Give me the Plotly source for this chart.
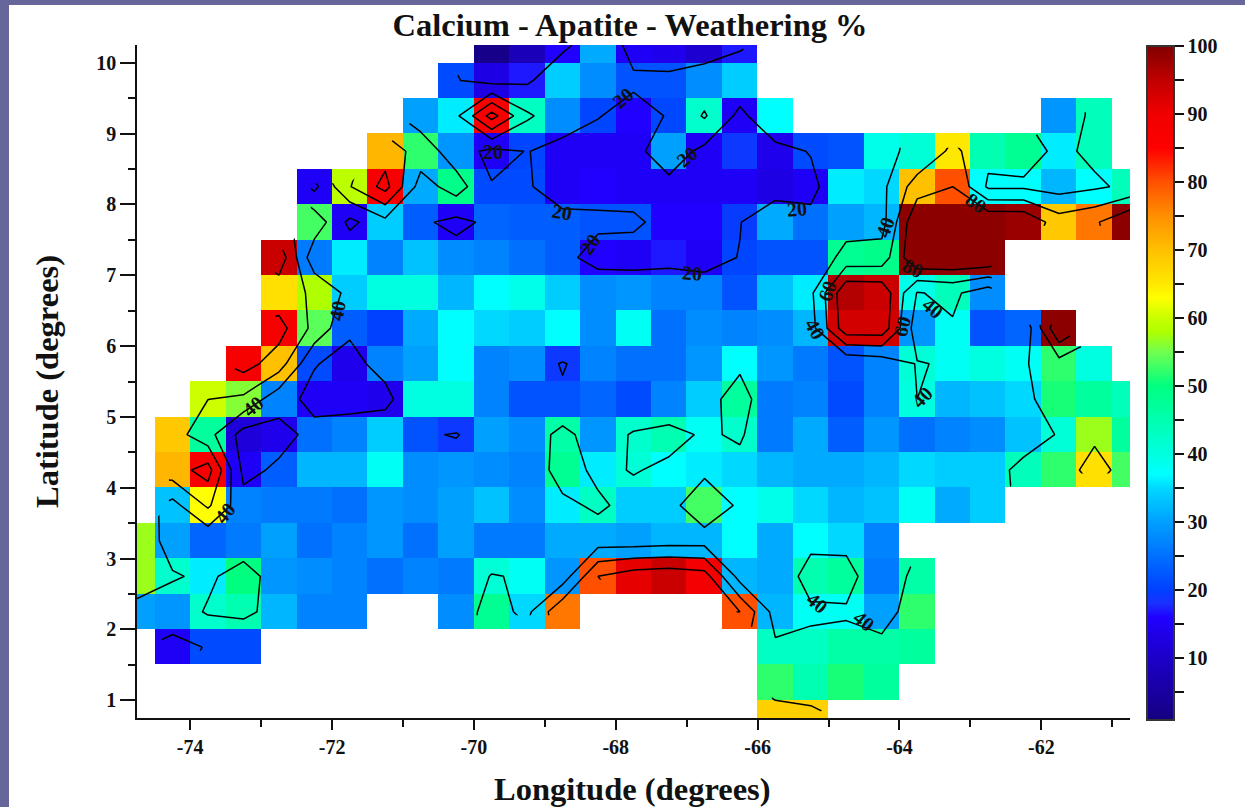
import plotly.graph_objects as go

N = None
longitudes = [-74.75 + 0.5 * i for i in range(29)]
latitudes = [0.75 + 0.5 * i for i in range(20)]

lat_0075 = [N]*18 + [68, 68] + [N]*9
lat_0125 = [N]*18 + [52, 45, 51, 47] + [N]*7
lat_0175 = [N] + [15, 21, 21] + [N]*14 + [43, 43, 46, 46, 47] + [N]*6
lat_0225 = [30, 29, 42, 45, 32, 27, 27, N, N, 28, 48, 35, 77, N, N, N, N, 80, 32, 38, 38, 30, 52] + [N]*6
lat_0275 = [57, 42, 36, 50, 29, 28, 27, 25, 27, 26, 41, 38, 29, 80, 91, 94, 89, 32, 31, 45, 47, 26, 46] + [N]*6
lat_0325 = [57, 30, 24, 26, 30, 25, 27, 29, 25, 30, 26, 26, 31, 31, 30, 32, 32, 37, 31, 37, 35, 27] + [N]*7
lat_0375 = [N] + [33, 63, 27, 26, 26, 25, 29, 28, 30, 33, 28, 36, 43, 34, 34, 53, 37, 39, 35, 32, 33, 38, 31, 34] + [N]*4
lat_0425 = [N] + [71, 88, 15, 23, 32, 32, 38, 28, 29, 28, 27, 48, 36, 41, 37, 36, 35, 32, 31, 31, 32, 35, 34, 34, 44, 52, 66, 53]
lat_0475 = [N] + [69, 47, 12, 14, 25, 27, 34, 22, 19, 30, 28, 46, 29, 42, 45, 38, 42, 26, 31, 23, 29, 25, 27, 28, 33, 41, 57, 47]
lat_0525 = [N]*2 + [60.2, 56, 27, 15, 15, 14, 40, 40, 27, 22, 22, 24, 21, 27, 34, 47, 26, 27, 21, 27, 40, 32, 33, 35, 51, 47, 44]
lat_0575 = [N]*3 + [88, 70, 21, 14, 27, 30, 37, 27, 28, 19, 27, 25, 25, 29, 37, 29, 26, 22, 27, 41, 38, 40, 38, 52, 40, N]
lat_0625 = [N]*4 + [88, 54, 23, 20, 31, 37, 35, 34, 37, 28, 38, 25, 28, 27, 28, 32, 93, 93, 29, 38, 22, 24, 99, N, N]
lat_0675 = [N]*4 + [66, 58, 34, 40, 40, 32, 37, 39, 34, 28, 29, 27, 27, 22, 33, 36, 96, 94, 39, 44, 28] + [N]*4
lat_0725 = [N]*4 + [94, 26, 36, 27, 33, 28, 27, 25, 23, 16, 15, 17, 15, 20.5, 22, 22, 48, 49, 99, 99, 99] + [N]*4
lat_0775 = [N]*5 + [53, 15, 34, 23, 15, 24, 23, 23, 22, 22, 16, 16, 19.5, 31, 25, 30, 32, 99, 99, 99, 98, 69, 77, 99]
lat_0825 = [N]*5 + [15, 59, 87, 31, 49, 21, 21, 15, 16, 15, 15, 15, 15, 13, 15, 36, 35, 70, 80, 37, 37, 32, 37, 44]
lat_0875 = [N]*7 + [71, 52, 29, 15, 20.5, 15, 15, 15, 30, 15, 19, 14, 21, 22, 39, 41, 65, 45, 48, 36, 44, N]
lat_0925 = [N]*8 + [30, 36, 88, 43, 28, 20.5, 16, 20.7, 42, 15, 37] + [N]*7 + [29, 44, N]
lat_0975 = [N]*9 + [21, 13, 17, 34, 28, 22, 22, 28, 34] + [N]*11
lat_1025 = [N]*10 + [2, 8, 16, 31, 15, 14, 11, 17] + [N]*11

weathering = [lat_0075, lat_0125, lat_0175, lat_0225, lat_0275, lat_0325, lat_0375, lat_0425, lat_0475, lat_0525,
              lat_0575, lat_0625, lat_0675, lat_0725, lat_0775, lat_0825, lat_0875, lat_0925, lat_0975, lat_1025]

# contour labels
label_text = ["20", "20", "20", "20", "20", "20", "20", "40", "80", "60", "40", "60", "40", "80", "40", "40", "40", "40", "40", "40"]
label_lon = [-69.73, -67.90, -67.00, -68.76, -68.36, -66.93, -65.45, -64.20, -63.81, -65.02, -65.19, -63.96, -63.53, -62.92, -71.93, -73.11, -73.51, -65.16, -64.50, -63.68]
label_lat = [8.74, 9.50, 8.67, 7.89, 7.44, 7.03, 7.93, 7.68, 7.10, 6.78, 6.24, 6.28, 6.54, 8.02, 6.50, 5.15, 3.64, 2.37, 2.12, 5.28]
label_angle = [0, -40, -40, 10, -55, 5, -5, -70, 25, -70, 60, -75, 40, 35, -80, -40, -50, 40, 40, -45]

x_ticks = [-74, -72, -70, -68, -66, -64, -62]
x_tick_text = ["-74", "-72", "-70", "-68", "-66", "-64", "-62"]

z_min, z_max = 0.9, 100
stops = [(0.9, "#150080"), (10, "#1c00c8"), (16, "#2000ff"), (18, "#1a30ff"), (20, "#0040ff"), (25, "#0070ff"),
         (30, "#00a0ff"), (35, "#00d8ff"), (37, "#00ffff"), (40, "#00ffe0"), (45, "#00ffb0"), (50, "#00ff80"),
         (55, "#70ff50"), (58, "#b0ff00"), (60, "#c8ff00"), (63, "#ffff00"), (65, "#ffe800"), (70, "#ffc000"),
         (75, "#ff9000"), (80, "#ff5000"), (83, "#ff2000"), (85, "#ff0000"), (90, "#f00000"), (95, "#c00000"),
         (100, "#800000")]
colorscale = [[(v - z_min) / (z_max - z_min), c] for v, c in stops]

cbar_ticks = list(range(5, 101, 5))
cbar_text = [str(v) if v % 10 == 0 else "" for v in cbar_ticks]

FONT = "Liberation Serif"
INK = "#111111"
W, H = 1236, 802  # page body is offset by the purple frame
L, R, T, B = 128, 1236 - 1121, 40, 89

fig = go.Figure()
fig.add_trace(go.Heatmap(
    x=longitudes, y=latitudes, z=weathering, zmin=z_min, zmax=z_max, colorscale=colorscale,
    hoverongaps=False,
    colorbar=dict(
        lenmode="pixels", len=674, thicknessmode="pixels", thickness=27,
        x=1.017, xanchor="left", xpad=0, xref="paper", y=0.4978, yanchor="middle", ypad=0,
        yref="paper",
        outlinecolor="#333333", outlinewidth=2,
        tickmode="array", tickvals=cbar_ticks, ticktext=cbar_text,
        ticks="outside", ticklen=9, tickwidth=1.5, tickcolor=INK,
        tickfont=dict(family=FONT, size=20, color=INK, weight="bold"),
    ),
))
fig.add_trace(go.Contour(
    x=longitudes, y=latitudes, z=weathering, showscale=False, hoverinfo="skip",
    connectgaps=False,
    contours=dict(start=20, end=80, size=20, coloring="none", showlabels=False),
    line=dict(color="black", width=1.5, smoothing=0),
))
for text, lon, lat, angle in zip(label_text, label_lon, label_lat, label_angle):
    fig.add_annotation(x=lon, y=lat, xref="x", yref="y", text=f"<b>{text}</b>", textangle=angle, showarrow=False,
                       font=dict(family=FONT, size=20, color=INK))
fig.add_annotation(x=0.4985, y=-0.1055, xref="paper", yref="paper", text="<b>Longitude (degrees)</b>",
                   showarrow=False, xanchor="center", yanchor="middle", font=dict(family=FONT, size=32.5, color=INK))
fig.add_annotation(x=-0.0906, y=0.4993, xref="paper", yref="paper", text="<b>Latitude (degrees)</b>", textangle=-90,
                   showarrow=False, xanchor="center", yanchor="middle", font=dict(family=FONT, size=32.5, color=INK))
fig.update_layout(
    width=W, height=H, margin=dict(l=L, r=R, t=T, b=B, pad=0),
    paper_bgcolor="white", plot_bgcolor="white", showlegend=False,
    title=dict(text="<b>Calcium - Apatite - Weathering %</b>", x=0.4965, xref="paper", xanchor="center",
               y=0.975, yref="container", yanchor="middle",
               font=dict(family=FONT, size=32.5, color=INK)),
    xaxis=dict(
        range=[-74.75, -60.75], tickmode="array", tickvals=x_ticks, ticktext=x_tick_text,
        ticks="outside", ticklen=10, tickwidth=1.5, tickcolor=INK,
        minor=dict(dtick=1, tick0=-75, ticks="outside", ticklen=7, tickwidth=1.5, tickcolor=INK),
        showline=True, linecolor=INK, linewidth=1.5, showgrid=False, zeroline=False,
        tickfont=dict(family=FONT, size=20, color=INK, weight="bold"),
    ),
    yaxis=dict(
        range=[0.75, 10.25], tick0=1, dtick=1, ticks="outside", ticklen=15, tickwidth=1.5, tickcolor=INK,
        minor=dict(dtick=0.5, tick0=0.5, ticks="outside", ticklen=7, tickwidth=1.5, tickcolor=INK),
        showline=True, linecolor=INK, linewidth=1.5, showgrid=False, zeroline=False,
        tickfont=dict(family=FONT, size=20, color=INK, weight="bold"),
    ),
)
frame_js = ("document.documentElement.style.background='#67669a';"
            "document.body.style.background='#67669a';"
            "document.body.style.margin='5px 0 0 9px';"
            "document.body.style.overflow='hidden';")
fig.write_html("out.html", post_script=frame_js, config={"displayModeBar": False})
